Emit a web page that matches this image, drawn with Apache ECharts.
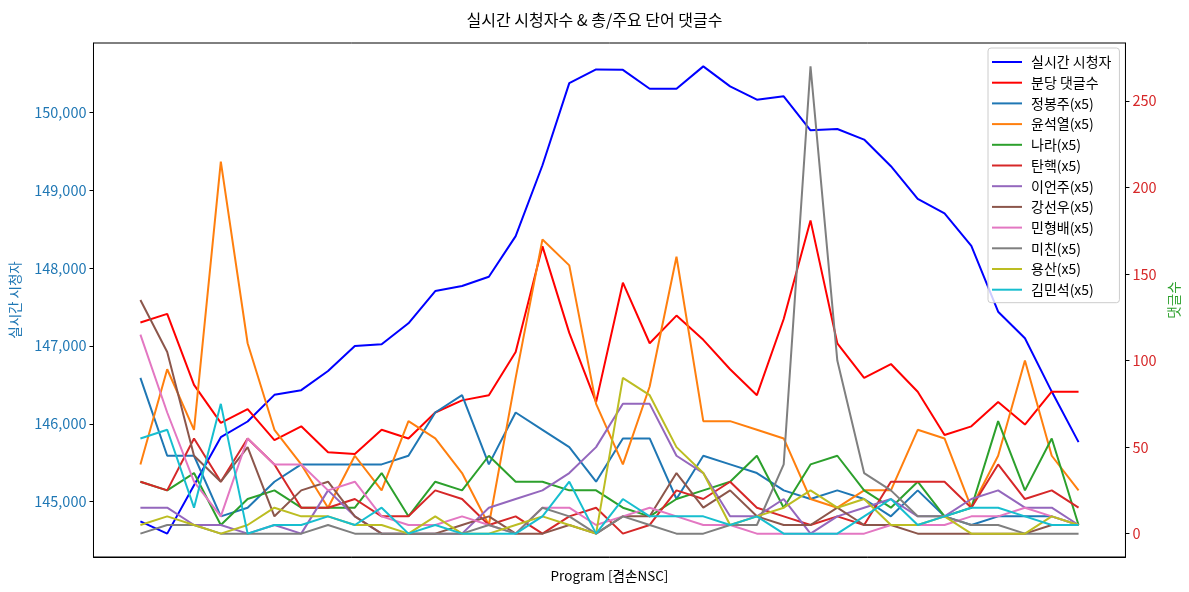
<!DOCTYPE html>
<html>
<head>
<meta charset="utf-8">
<script src="https://cdn.jsdelivr.net/npm/echarts@6/dist/echarts.min.js"></script>
<style>
html,body{margin:0;padding:0;background:#fff;}
#chart{width:1189px;height:592px;}
</style>
</head>
<body>
<div id="chart"></div>
<script>
// ---- data ----
const titleText = '실시간 시청자수 & 총/주요 단어 댓글수';
const xAxisName = 'Program [겸손NSC]';
const leftAxisName = '실시간 시청자';
const rightAxisName = '댓글수';
const leftTicks = [145000, 146000, 147000, 148000, 149000, 150000];
const rightTicks = [0, 50, 100, 150, 200, 250];

const viewers = [144747, 144590, 145210, 145829, 146030, 146372, 146432, 146679, 147000, 147021, 147291, 147705, 147769, 147888, 148410, 149320, 150375, 150551, 150545, 150303, 150303, 150590, 150333, 150162, 150205, 149769, 149786, 149650, 149308, 148889, 148701, 148286, 147440, 147098, 146414, 145765];
const commentsPerMin = [122, 127, 86, 64, 72, 54, 62, 47, 46, 60, 55, 70, 77, 80, 105, 166, 116, 76, 145, 110, 126, 112, 95, 80, 124, 181, 110, 90, 98, 82, 57, 62, 76, 63, 82, 82];
const jeongBongju = [90,45,45,10,15,30,40,40,40,40,45,70,80,40,70,60,50,30,55,55,20,45,40,35,25,20,25,20,10,25,10,5,10,10,10,5];
const yoonSeokyeol = [40,95,60,215,110,60,40,15,45,25,65,55,35,5,90,170,155,75,40,85,160,65,65,60,55,20,15,25,25,60,55,15,45,100,45,25];
const nara = [30,25,35,5,20,25,15,15,15,35,10,30,25,45,30,30,25,25,15,10,20,25,30,45,15,40,45,25,15,30,10,15,65,25,55,5];
const tanhaek = [30,25,55,30,55,40,15,15,20,10,10,25,20,5,10,0,10,15,0,5,25,20,30,15,10,5,10,5,30,30,30,15,40,20,25,15];
const leeEonju = [15,15,5,5,0,5,0,25,10,0,0,0,0,15,20,25,35,50,75,75,45,35,10,10,20,0,10,15,20,10,10,20,25,15,15,5];
const kangSeonwoo = [135,105,45,30,50,10,25,30,10,0,0,0,5,10,0,0,5,0,10,10,35,15,25,10,5,5,15,5,5,0,0,0,0,0,5,5];
const minHyungbae = [115,70,30,10,55,40,40,25,30,10,5,5,10,5,0,15,15,5,10,15,10,5,5,0,0,0,0,0,5,5,5,10,10,15,10,5];
const michin = [0,5,5,0,0,0,0,5,0,0,0,0,0,5,0,15,10,0,10,5,0,0,5,5,40,270,100,35,25,10,10,5,5,0,0,0];
const yongsan = [5,10,5,0,5,15,10,10,5,5,0,10,0,0,5,10,5,0,90,80,50,35,5,10,15,25,15,20,5,5,10,0,0,0,10,5];
const kimMinseok = [55,60,15,75,0,5,5,10,5,15,0,5,0,0,0,10,30,0,20,10,10,10,5,10,0,0,0,10,20,5,10,15,15,10,5,5];

const seriesDefs = [
  {name: '실시간 시청자', data: viewers, color: '#0000ff', axis: 0},
  {name: '분당 댓글수', data: commentsPerMin, color: '#ff0000', axis: 1},
  {name: '정봉주(x5)', data: jeongBongju, color: '#1f77b4', axis: 1},
  {name: '윤석열(x5)', data: yoonSeokyeol, color: '#ff7f0e', axis: 1},
  {name: '나라(x5)', data: nara, color: '#2ca02c', axis: 1},
  {name: '탄핵(x5)', data: tanhaek, color: '#d62728', axis: 1},
  {name: '이언주(x5)', data: leeEonju, color: '#9467bd', axis: 1},
  {name: '강선우(x5)', data: kangSeonwoo, color: '#8c564b', axis: 1},
  {name: '민형배(x5)', data: minHyungbae, color: '#e377c2', axis: 1},
  {name: '미친(x5)', data: michin, color: '#7f7f7f', axis: 1},
  {name: '용산(x5)', data: yongsan, color: '#bcbd22', axis: 1},
  {name: '김민석(x5)', data: kimMinseok, color: '#17becf', axis: 1}
];

// ---- chart ----
const FONT = '"Noto Sans CJK KR", "Noto Sans", sans-serif';
const n = viewers.length;
const pad = (n - 1) * 0.05;

function extent(arrs) {
  let lo = Infinity, hi = -Infinity;
  arrs.forEach(a => a.forEach(v => { lo = Math.min(lo, v); hi = Math.max(hi, v); }));
  return [lo, hi];
}
const [l0, l1] = extent([viewers]);
const [r0, r1] = extent(seriesDefs.filter(s => s.axis === 1).map(s => s.data));
const lm = (l1 - l0) * 0.05, rm = (r1 - r0) * 0.05;

const chart = echarts.init(document.getElementById('chart'), null, {renderer: 'canvas'});
chart.setOption({
  animation: false,
  backgroundColor: '#ffffff',
  textStyle: {fontFamily: FONT},
  title: {
    text: titleText, left: 'center', top: 7,
    textStyle: {fontFamily: FONT, fontSize: 16, fontWeight: 'normal', color: '#000'}
  },
  grid: {left: 93, right: 62, top: 43, bottom: 35, show: true, borderColor: '#000', borderWidth: 1, backgroundColor: 'transparent'},
  legend: {
    orient: 'vertical', left: 988, top: 48,
    icon: 'rect', itemWidth: 30, itemHeight: 2, itemGap: 6.7,
    padding: [7, 8, 6, 4],
    backgroundColor: 'rgba(255,255,255,0.8)', borderColor: '#cccccc', borderWidth: 1, borderRadius: 3,
    textStyle: {fontFamily: FONT, fontSize: 14, color: '#000', padding: [0, 0, 0, 4]},
    data: seriesDefs.map(s => s.name)
  },
  xAxis: {
    type: 'value', min: -pad, max: (n - 1) + pad,
    name: xAxisName, nameLocation: 'middle', nameGap: 12,
    nameTextStyle: {fontFamily: FONT, fontSize: 13.5, color: '#000'},
    axisLine: {onZero: false, lineStyle: {color: '#000', width: 1}},
    axisTick: {show: false}, axisLabel: {show: false}, splitLine: {show: false}
  },
  yAxis: [
    {
      type: 'value', position: 'left', min: l0 - lm, max: l1 + lm,
      name: leftAxisName, nameLocation: 'middle', nameRotate: 90, nameGap: 72,
      nameTextStyle: {fontFamily: FONT, fontSize: 13.5, color: '#1f77b4'},
      axisLine: {show: true, onZero: false, lineStyle: {color: '#000', width: 1}},
      axisTick: {show: true, length: 4, customValues: leftTicks, lineStyle: {color: '#000'}},
      axisLabel: {customValues: leftTicks, color: '#1f77b4', fontSize: 14.5, fontFamily: FONT, margin: 7,
        formatter: v => Math.round(v).toLocaleString('en-US')},
      splitLine: {show: false}
    },
    {
      type: 'value', position: 'right', min: r0 - rm, max: r1 + rm,
      name: rightAxisName, nameLocation: 'middle', nameRotate: 90, nameGap: 40,
      nameTextStyle: {fontFamily: FONT, fontSize: 13.5, color: '#2ca02c'},
      axisLine: {show: true, onZero: false, lineStyle: {color: '#000', width: 1}},
      axisTick: {show: true, length: 4, customValues: rightTicks, lineStyle: {color: '#000'}},
      axisLabel: {customValues: rightTicks, color: '#d62728', fontSize: 14.5, fontFamily: FONT, margin: 7},
      splitLine: {show: false}
    }
  ],
  series: seriesDefs.map(s => ({
    name: s.name, type: 'line', yAxisIndex: s.axis,
    data: s.data.map((v, i) => [i, v]),
    showSymbol: false, symbol: 'none',
    lineStyle: {color: s.color, width: 2}, itemStyle: {color: s.color},
    emphasis: {disabled: true}
  }))
});
</script>
</body>
</html>
